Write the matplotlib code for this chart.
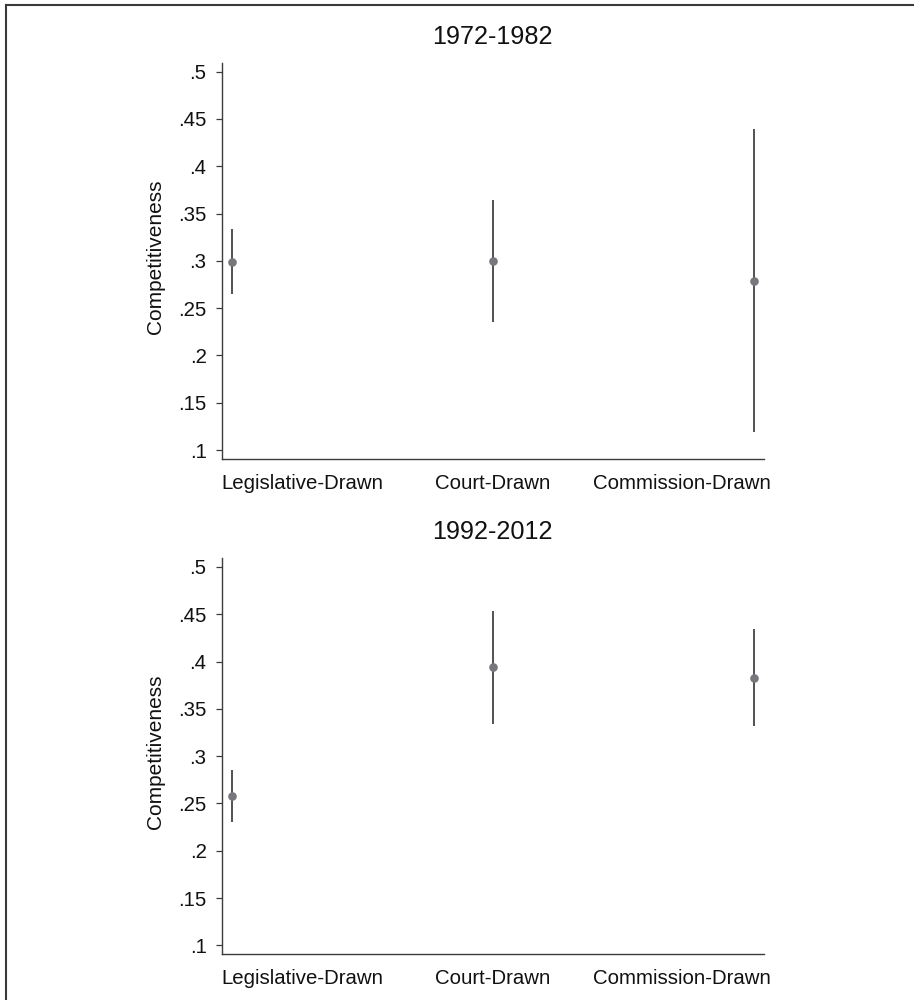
import matplotlib
matplotlib.use("Agg")
import matplotlib.pyplot as plt
from matplotlib.lines import Line2D
from matplotlib.transforms import ScaledTranslation

plt.rcParams['font.family'] = ['Liberation Sans', 'DejaVu Sans']

categories = ["Legislative-Drawn", "Court-Drawn", "Commission-Drawn"]
panel_titles = ["1972-1982", "1992-2012"]

est_1972 = [0.299, 0.300, 0.2785]
lo_1972 = [0.265, 0.235, 0.119]
hi_1972 = [0.334, 0.364, 0.439]

est_1992 = [0.258, 0.394, 0.383]
lo_1992 = [0.230, 0.334, 0.332]
hi_1992 = [0.285, 0.453, 0.434]

ytick_values = [0.1, 0.15, 0.2, 0.25, 0.3, 0.35, 0.4, 0.45, 0.5]
ytick_labels = [".1", ".15", ".2", ".25", ".3", ".35", ".4", ".45", ".5"]
ylabel = "Competitiveness"

W, H = 914, 1000
fig = plt.figure(figsize=(W / 100, H / 100), dpi=100)

ax_left = 221.7 / W
ax_w = (764 - 221.7) / W
ax_h = 396.3 / H
tops = [62.7, 558.0]

panels = [(est_1972, lo_1972, hi_1972), (est_1992, lo_1992, hi_1992)]
spine_col = "#3c3c3c"
for i, (est, lo, hi) in enumerate(panels):
    top = tops[i]
    ax = fig.add_axes([ax_left, 1 - (top + 396.3) / H, ax_w, ax_h])
    x = list(range(len(categories)))
    ax.vlines(x, lo, hi, color="#2b2b2b", linewidth=1.15, zorder=2)
    ax.plot(x, est, linestyle="none", marker="o", markersize=6.2,
            color="#77787c", markeredgewidth=0, zorder=3)
    ax.set_xlim(-0.04, 2.038)
    ax.set_ylim(0.0905, 0.5095)
    ax.set_yticks(ytick_values)
    ax.set_yticklabels(ytick_labels)
    ax.set_xticks(x)
    ax.set_xticklabels(categories)
    for s in ["top", "right"]:
        ax.spines[s].set_visible(False)
    for s in ["left", "bottom"]:
        ax.spines[s].set_color(spine_col)
        ax.spines[s].set_linewidth(1.0)
    ax.tick_params(axis="y", direction="out", length=4.2, width=0.9,
                   color=spine_col, pad=6.7, labelsize=14.7, labelcolor="#111111")
    ax.tick_params(axis="x", length=0, pad=10.5, labelsize=14.7, labelcolor="#111111")
    labs = ax.get_xticklabels()
    labs[0].set_horizontalalignment("left")
    labs[0].set_transform(labs[0].get_transform() + ScaledTranslation(-10.6 / 100, 0, fig.dpi_scale_trans))
    labs[2].set_horizontalalignment("right")
    labs[2].set_transform(labs[2].get_transform() + ScaledTranslation(16.7 / 100, 0, fig.dpi_scale_trans))
    ax.set_ylabel(ylabel, fontsize=15.0, color="#111111")
    ax.yaxis.set_label_coords(-0.105, 0.51)
    ax.set_title(panel_titles[i], fontsize=18.2, pad=13.5, color="#111111")

# outer frame (left and top edges visible)
fig.add_artist(Line2D([6 / W, 6 / W], [0, 1 - 5 / H], transform=fig.transFigure,
                      color="#3a3a3a", linewidth=1.5))
fig.add_artist(Line2D([6 / W, 1], [1 - 5 / H, 1 - 5 / H], transform=fig.transFigure,
                      color="#3a3a3a", linewidth=1.5))

fig.savefig("out.png", dpi=100, facecolor="white")
